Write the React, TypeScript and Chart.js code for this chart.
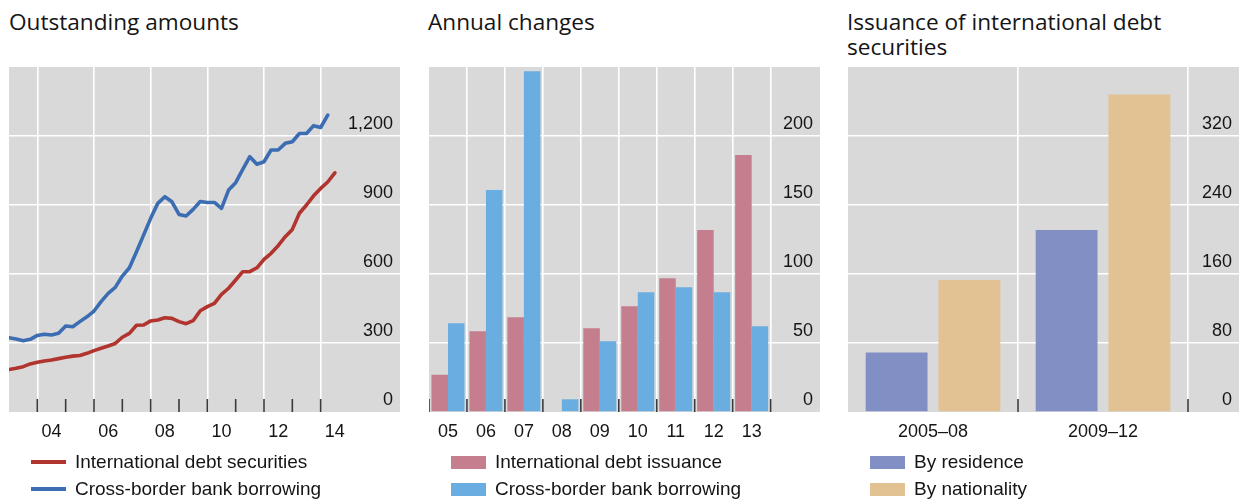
import React, { useEffect, useRef } from 'react';
import { Chart, registerables } from 'chart.js';

Chart.register(...registerables);

// ---------- Panel 1: Outstanding amounts (quarterly, from 2003 Q1) ----------
const lineStartYear = 2003;
const debtSecurities = [
  185, 190, 197, 209,
  216, 222, 226, 232,
  238, 243, 246, 255,
  267, 277, 287, 298,
  325, 342, 377, 378,
  396, 400, 410, 407,
  393, 384, 397, 440,
  458, 472, 511, 538,
  574, 610, 610, 627,
  664, 690, 723, 762,
  794, 864, 900, 940,
  972, 1000, 1040,
];
const bankBorrowing = [
  323, 317, 310, 316,
  333, 338, 335, 342,
  374, 371, 393, 414,
  439, 480, 516, 542,
  591, 627, 697, 769,
  842, 907, 936, 914,
  859, 852, 881, 915,
  911, 911, 885, 965,
  997, 1055, 1110, 1077,
  1088, 1139, 1139, 1168,
  1175, 1211, 1211, 1245,
  1237, 1291,
];
const lineLabelYears = [2004, 2006, 2008, 2010, 2012, 2014];
const lineTickYears = [2004, 2005, 2006, 2007, 2008, 2009, 2010, 2011, 2012, 2013, 2014];
const lineYTicks = [0, 300, 600, 900, 1200, 1500];

// ---------- Panel 2: Annual changes ----------
const changeCategories = ['05', '06', '07', '08', '09', '10', '11', '12', '13'];
const debtIssuance = [27, 58.5, 68.7, null, 60.7, 76.7, 97, 131.8, 186.2];
const crossBorderChange = [64.3, 160.8, 247, 9.2, 51.3, 86.8, 90.4, 86.8, 62.1];
const changeYTicks = [0, 50, 100, 150, 200, 250];

// ---------- Panel 3: Issuance of international debt securities ----------
const issuanceCategories = ['2005–08', '2009–12'];
const byResidence = [69, 211];
const byNationality = [153, 368];
const issuanceYTicks = [0, 80, 160, 240, 320, 400];

// ---------- styling ----------
const BG = '#d9d9d9';
const TEXT = '#151515';
const WHITE = '#ffffff';
const TRANSPARENT = 'rgba(0,0,0,0)';
const TICK_FONT = { family: "'Liberation Sans', Arial, sans-serif", size: 18 };

const decorPlugin = {
  id: 'panelDecor',
  beforeDraw(chart: any) {
    const { ctx, chartArea: a } = chart;
    ctx.save();
    ctx.fillStyle = BG;
    ctx.fillRect(a.left, a.top, a.right - a.left, a.bottom - a.top);
    ctx.restore();
  },
  afterDatasetsDraw(chart: any, _a: any, opts: any) {
    const { ctx, chartArea: a } = chart;
    const xs = chart.scales.x;
    ctx.save();
    ctx.strokeStyle = '#3a3a3a';
    ctx.lineWidth = 1.6;
    ctx.beginPath();
    for (const v of opts.marks || []) {
      const px = xs.getPixelForValue(v);
      ctx.moveTo(px, a.bottom);
      ctx.lineTo(px, a.bottom - 13);
    }
    ctx.stroke();
    ctx.restore();
  },
};

function makeScales(cfg: {
  xMin: number; xMax: number; xTicks: number[]; gridOffset: boolean;
  gridColor: (c: any) => string; xLabel: (v: number) => string;
  yTicks: number[];
}) {
  const yMax = cfg.yTicks[cfg.yTicks.length - 1];
  return {
    x: {
      type: 'linear',
      min: cfg.xMin,
      max: cfg.xMax,
      offset: false,
      afterBuildTicks: (s: any) => { s.ticks = cfg.xTicks.map((v) => ({ value: v })); },
      afterFit: (s: any) => {
        s.height = 40;
        s.paddingLeft = 0; s.paddingRight = 0; s.paddingTop = 0; s.paddingBottom = 0;
      },
      grid: {
        offset: cfg.gridOffset,
        drawTicks: false,
        lineWidth: 1.6,
        color: cfg.gridColor,
      },
      border: { display: false },
      ticks: {
        autoSkip: false,
        maxRotation: 0,
        minRotation: 0,
        padding: 9,
        color: TEXT,
        font: TICK_FONT,
        callback: (v: any) => cfg.xLabel(Number(v)),
      },
    },
    y: {
      type: 'linear',
      position: 'right',
      min: 0,
      max: yMax,
      afterBuildTicks: (s: any) => { s.ticks = cfg.yTicks.map((v) => ({ value: v })); },
      afterFit: (s: any) => {
        s.width = 0;
        s.paddingLeft = 0; s.paddingRight = 0; s.paddingTop = 0; s.paddingBottom = 0;
      },
      grid: {
        drawTicks: false,
        lineWidth: 1.6,
        color: (c: any) => (c.tick && c.tick.value > 0 && c.tick.value < yMax ? WHITE : TRANSPARENT),
      },
      border: { display: false },
      ticks: {
        mirror: true,
        padding: -7,
        labelOffset: -12,
        color: TEXT,
        font: TICK_FONT,
        callback: (v: any) => (Number(v) === yMax ? '' : Number(v).toLocaleString('en-US')),
      },
    },
  };
}

const baseOpts = {
  responsive: false,
  animation: false,
  layout: { padding: 0 },
  events: [],
};

function useChart(build: () => any) {
  const ref = useRef<HTMLCanvasElement | null>(null);
  useEffect(() => {
    if (!ref.current) return;
    const chart = new Chart(ref.current, build());
    return () => chart.destroy();
  }, []);
  return ref;
}

const CANVAS_W = 391;
const CANVAS_H = 385;

function LinePanel() {
  const ref = useChart(() => {
    const toPts = (arr: number[]) => arr.map((v, i) => ({ x: lineStartYear + i * 0.25, y: v }));
    const xTicks: number[] = [];
    lineLabelYears.forEach((y) => { xTicks.push(y, y + 0.5); });
    return {
      type: 'line',
      data: {
        datasets: [
          { label: 'International debt securities', data: toPts(debtSecurities), borderColor: '#b2342f', borderWidth: 3.6, pointRadius: 0, tension: 0, borderJoinStyle: 'round', borderCapStyle: 'round' },
          { label: 'Cross-border bank borrowing', data: toPts(bankBorrowing), borderColor: '#3c6db3', borderWidth: 3.6, pointRadius: 0, tension: 0, borderJoinStyle: 'round', borderCapStyle: 'round' },
        ],
      },
      options: {
        ...baseOpts,
        scales: makeScales({
          xMin: 2003, xMax: 2016.8, xTicks, gridOffset: false,
          gridColor: (c: any) => (c.tick && Number.isInteger(c.tick.value) ? WHITE : TRANSPARENT),
          xLabel: (v) => (Number.isInteger(v) ? '' : String(Math.floor(v) % 100).padStart(2, '0')),
          yTicks: lineYTicks,
        }),
        plugins: { legend: { display: false }, tooltip: { enabled: false }, panelDecor: { marks: lineTickYears } },
      },
      plugins: [decorPlugin],
    };
  });
  return <canvas ref={ref} width={CANVAS_W} height={CANVAS_H} style={{ display: 'block' }} />;
}

function BarPanel(props: {
  categories: string[]; series: { label: string; data: (number | null)[]; color: string }[];
  xMax: number; yTicks: number[]; catPct: number; barPct: number; marksFrom: number;
}) {
  const ref = useChart(() => {
    const n = props.categories.length;
    const xTicks = props.categories.map((_, i) => i);
    const marks: number[] = [];
    for (let i = props.marksFrom; i <= n; i++) marks.push(i - 0.5);
    return {
      type: 'bar',
      data: {
        datasets: props.series.map((s) => ({
          label: s.label,
          data: s.data.map((v, i) => ({ x: i, y: v })),
          backgroundColor: s.color,
          borderWidth: 0,
          categoryPercentage: props.catPct,
          barPercentage: props.barPct,
        })),
      },
      options: {
        ...baseOpts,
        scales: makeScales({
          xMin: -0.5, xMax: props.xMax, xTicks, gridOffset: true,
          gridColor: (c: any) => (c.index === 0 ? TRANSPARENT : WHITE),
          xLabel: (v) => props.categories[v] ?? '',
          yTicks: props.yTicks,
        }),
        plugins: { legend: { display: false }, tooltip: { enabled: false }, panelDecor: { marks } },
      },
      plugins: [decorPlugin],
    };
  });
  return <canvas ref={ref} width={CANVAS_W} height={CANVAS_H} style={{ display: 'block' }} />;
}

const titleStyle: React.CSSProperties = {
  position: 'absolute',
  top: 9,
  fontFamily: "'Open Sans', 'Noto Sans', sans-serif",
  fontSize: 22.6,
  lineHeight: '25px',
  color: TEXT,
  whiteSpace: 'pre',
};

function Legend(props: { left: number; items: { label: string; color: string; kind: 'line' | 'box' }[] }) {
  return (
    <div style={{ position: 'absolute', left: props.left, top: 448.5 }}>
      {props.items.map((it) => (
        <div key={it.label} style={{ display: 'flex', alignItems: 'center', height: 27 }}>
          <div style={{ width: 35, height: it.kind === 'line' ? 4 : 13, background: it.color, marginRight: 9 }} />
          <span style={{ fontFamily: "'Liberation Sans', Arial, sans-serif", fontSize: 19, color: TEXT, whiteSpace: 'nowrap' }}>{it.label}</span>
        </div>
      ))}
    </div>
  );
}

export default function App() {
  const P1 = 9, P2 = 429, P3 = 848;
  return (
    <div style={{ position: 'absolute', left: 0, top: 0, width: 1242, height: 499, background: '#fff', overflow: 'hidden' }}>
      <div style={{ ...titleStyle, left: P1 }}>Outstanding amounts</div>
      <div style={{ ...titleStyle, left: P2 - 1 }}>Annual changes</div>
      <div style={{ ...titleStyle, left: P3 - 1 }}>{'Issuance of international debt\nsecurities'}</div>

      <div style={{ position: 'absolute', left: P1, top: 67 }}><LinePanel /></div>
      <div style={{ position: 'absolute', left: P2, top: 67 }}>
        <BarPanel
          categories={changeCategories}
          series={[
            { label: 'International debt issuance', data: debtIssuance, color: '#c47e8e' },
            { label: 'Cross-border bank borrowing', data: crossBorderChange, color: '#6aade0' },
          ]}
          xMax={9.8} yTicks={changeYTicks} catPct={0.87} barPct={1} marksFrom={0}
        />
      </div>
      <div style={{ position: 'absolute', left: P3, top: 67 }}>
        <BarPanel
          categories={issuanceCategories}
          series={[
            { label: 'By residence', data: byResidence, color: '#828fc5' },
            { label: 'By nationality', data: byNationality, color: '#e2c292' },
          ]}
          xMax={1.8} yTicks={issuanceYTicks} catPct={0.856} barPct={0.85} marksFrom={1}
        />
      </div>

      <Legend left={P1 + 22} items={[
        { label: 'International debt securities', color: '#b2342f', kind: 'line' },
        { label: 'Cross-border bank borrowing', color: '#3c6db3', kind: 'line' },
      ]} />
      <Legend left={P2 + 22} items={[
        { label: 'International debt issuance', color: '#c47e8e', kind: 'box' },
        { label: 'Cross-border bank borrowing', color: '#6aade0', kind: 'box' },
      ]} />
      <Legend left={P3 + 22} items={[
        { label: 'By residence', color: '#828fc5', kind: 'box' },
        { label: 'By nationality', color: '#e2c292', kind: 'box' },
      ]} />
    </div>
  );
}
